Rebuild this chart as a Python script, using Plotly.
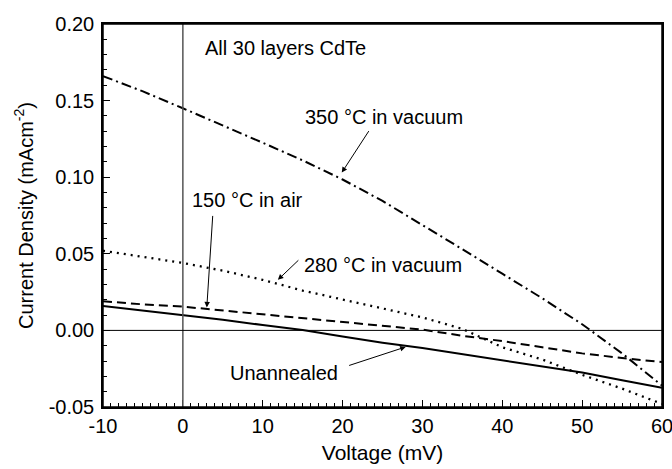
import plotly.graph_objects as go

voltage = [-10, -5, 0, 5, 10, 15, 20, 25, 30, 35, 40, 45, 50, 55, 60]
unannealed = [0.016, 0.013, 0.0103, 0.007, 0.0035, 0.0003, -0.004, -0.008, -0.0115, -0.0155, -0.0195, -0.0235, -0.0275, -0.0325, -0.0375]
air150 = [0.019, 0.017, 0.0155, 0.013, 0.0105, 0.0083, 0.0057, 0.0032, 0.0005, -0.0035, -0.007, -0.011, -0.015, -0.018, -0.0207]
vac280 = [0.052, 0.048, 0.044, 0.039, 0.033, 0.026, 0.020, 0.0145, 0.0085, 0.001, -0.011, -0.019, -0.029, -0.038, -0.048]
vac350 = [0.166, 0.156, 0.145, 0.134, 0.1225, 0.111, 0.0985, 0.0845, 0.069, 0.053, 0.037, 0.021, 0.004, -0.015, -0.036]

x_ticks = [-10, 0, 10, 20, 30, 40, 50, 60]
x_tick_labels = ["-10", "0", "10", "20", "30", "40", "50", "60"]
y_ticks = [-0.05, 0.00, 0.05, 0.10, 0.15, 0.20]
y_tick_labels = ["-0.05", "0.00", "0.05", "0.10", "0.15", "0.20"]

FONT = "Liberation Sans, Arial, sans-serif"

fig = go.Figure()
series = [
    (unannealed, "solid", 2),
    (air150, "9px,5px", 2),
    (vac280, "2px,5px", 2.3),
    (vac350, "10px,4px,2px,4px", 2),
]
for ys, dash, w in series:
    fig.add_trace(go.Scatter(x=voltage, y=ys, mode="lines", showlegend=False,
                             line=dict(color="black", width=w, dash=dash)))

# zero reference lines
fig.add_shape(type="line", xref="x", yref="paper", x0=0, x1=0, y0=0, y1=1,
              line=dict(color="#555555", width=1.5))
fig.add_shape(type="line", xref="paper", yref="y", x0=0, x1=1, y0=0, y1=0,
              line=dict(color="black", width=1))
# plot frame
fig.add_shape(type="rect", xref="paper", yref="paper", x0=0, x1=1, y0=0, y1=1,
              line=dict(color="black", width=1.5))

ann_font = dict(family=FONT, size=20, color="black")
fig.add_annotation(x=2.5, y=0.1845, text="All 30 layers CdTe", showarrow=False,
                   xanchor="left", yanchor="middle", font=ann_font)

labels = [
    # (text, text V, text J)
    ("350 °C in vacuum", 25.2, 0.1395),
    ("150 °C in air", 8.1, 0.085),
    ("280 °C in vacuum", 25.1, 0.0425),
    ("Unannealed", 12.7, -0.0275),
]
for text, lx, ly in labels:
    fig.add_annotation(x=lx, y=ly, text=text, showarrow=False, font=ann_font,
                       xanchor="center", yanchor="middle")

arrows = [
    # (tip V, tip J, tail offset px x, tail offset px y)
    (19.9, 0.103, 28, -43),
    (3.0, 0.0150, 6, -93),
    (11.9, 0.033, 22, -21),
    (27.9, -0.0108, -58, 19),
]
for tx, ty, ax, ay in arrows:
    fig.add_annotation(x=tx, y=ty, ax=ax, ay=ay, text="",
                       showarrow=True, arrowhead=2, arrowsize=1.1, arrowwidth=1,
                       arrowcolor="black")

fig.update_xaxes(range=[-10, 60], tickvals=x_ticks, ticktext=x_tick_labels,
                 ticks="inside", ticklen=7, automargin=False, ticklabeloverflow="allow",
                 tickwidth=1, tickcolor="black", showline=True, linecolor="black",
                 linewidth=1.5, mirror=True, showgrid=False, zeroline=False,
                 minor=dict(dtick=1, ticks="inside", ticklen=4, tickcolor="black", showgrid=False),
                 tickfont=dict(family=FONT, size=20, color="black"),
                 title=dict(text="Voltage (mV)", font=dict(family=FONT, size=21, color="black"), standoff=10))
fig.update_yaxes(range=[-0.05, 0.20], tickvals=y_ticks, ticktext=y_tick_labels,
                 ticks="inside", ticklen=7, tickwidth=1, tickcolor="black", automargin=False,
                 ticklabeloverflow="allow",
                 showline=True, linecolor="black", linewidth=1.5, mirror=True,
                 showgrid=False, zeroline=False, ticklabelstandoff=3,
                 minor=dict(dtick=0.01, tick0=0, ticks="inside", ticklen=4, tickcolor="black", showgrid=False),
                 tickfont=dict(family=FONT, size=20, color="black"),
                 title=dict(text="Current Density (mAcm<sup>-2</sup>)", font=dict(family=FONT, size=20, color="black"), standoff=10))

fig.update_layout(width=672, height=469, plot_bgcolor="white", paper_bgcolor="white",
                  margin=dict(l=103, r=10, t=24, b=62), showlegend=False)

fig.write_html("out.html", config={"displayModeBar": False},
               post_script=("document.documentElement.style.overflow='hidden';"
                            "document.body.style.margin='0';document.body.style.overflow='hidden';"))
